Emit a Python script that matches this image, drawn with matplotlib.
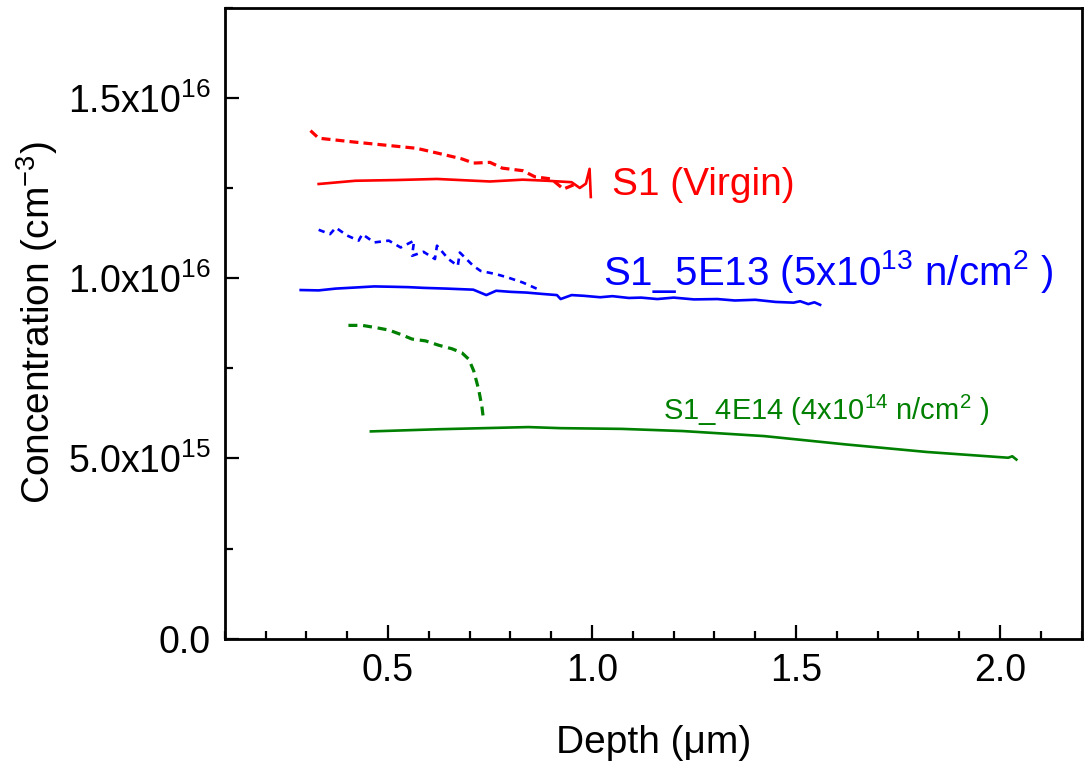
import matplotlib
matplotlib.use("Agg")
import matplotlib.pyplot as plt
from matplotlib.ticker import MultipleLocator

plt.rcParams['font.family'] = ['Liberation Sans', 'DejaVu Sans']
plt.rcParams['mathtext.fontset'] = 'custom'
plt.rcParams['mathtext.rm'] = 'Liberation Sans'
plt.rcParams['mathtext.it'] = 'Liberation Sans:italic'
plt.rcParams['mathtext.bf'] = 'Liberation Sans:bold'

# depth in um, concentration in units of 1e15 cm^-3
red_solid_x = [0.33, 0.42, 0.52, 0.62, 0.75, 0.83, 0.89, 0.95, 0.97, 0.985, 0.994, 0.997]
red_solid_y = [12.61, 12.70, 12.72, 12.75, 12.68, 12.73, 12.70, 12.66, 12.50, 12.62, 13.03, 12.25]

red_dash_x = [0.31, 0.33, 0.42, 0.50, 0.57, 0.62, 0.68, 0.71, 0.75, 0.78, 0.83, 0.86, 0.90, 0.93, 0.96]
red_dash_y = [14.09, 13.88, 13.77, 13.68, 13.60, 13.47, 13.31, 13.19, 13.21, 13.05, 12.98, 12.81, 12.75, 12.47, 12.61]

blue_solid_x = [0.286, 0.33, 0.372, 0.42, 0.466, 0.512, 0.55, 0.587, 0.643, 0.709, 0.741, 0.765, 0.80, 0.839,
                0.88, 0.914, 0.923, 0.95, 0.98, 1.02, 1.05, 1.09, 1.12, 1.16, 1.20, 1.25, 1.307, 1.35,
                1.40, 1.45, 1.494, 1.51, 1.53, 1.545, 1.559]
blue_solid_y = [9.67, 9.66, 9.71, 9.74, 9.77, 9.76, 9.75, 9.73, 9.71, 9.68, 9.53, 9.65, 9.62, 9.60,
                9.56, 9.53, 9.42, 9.53, 9.51, 9.47, 9.50, 9.45, 9.46, 9.42, 9.46, 9.41, 9.42, 9.38,
                9.40, 9.34, 9.32, 9.36, 9.28, 9.33, 9.26]

blue_dash_x = [0.33, 0.358, 0.372, 0.40, 0.428, 0.437, 0.466, 0.502, 0.531, 0.564, 0.559, 0.587,
               0.615, 0.62, 0.648, 0.671, 0.676, 0.709, 0.727, 0.765, 0.793, 0.83, 0.868]
blue_dash_y = [11.34, 11.22, 11.40, 11.18, 11.04, 11.22, 10.99, 11.04, 10.85, 11.04, 10.62, 10.73,
               10.53, 10.90, 10.53, 10.34, 10.71, 10.34, 10.20, 10.11, 10.02, 9.88, 9.69]

green_solid_x = [0.458, 0.624, 0.844, 0.923, 1.073, 1.222, 1.422, 1.621, 1.82, 2.02, 2.03, 2.04]
green_solid_y = [5.75, 5.81, 5.87, 5.84, 5.82, 5.76, 5.62, 5.39, 5.18, 5.02, 5.06, 4.97]

green_dash_x = [0.403, 0.437, 0.474, 0.502, 0.531, 0.559, 0.592, 0.624, 0.657, 0.681, 0.698,
                0.71, 0.722, 0.73, 0.734]
green_dash_y = [8.69, 8.69, 8.62, 8.56, 8.44, 8.31, 8.26, 8.14, 8.04, 7.93, 7.75,
                7.43, 6.92, 6.45, 6.08]

y_ticks = [0, 5, 10, 15]
y_tick_labels = ['0.0', r'5.0x10$^{15}$', r'1.0x10$^{16}$', r'1.5x10$^{16}$']
x_ticks = [0.5, 1.0, 1.5, 2.0]
x_tick_labels = ['0.5', '1.0', '1.5', '2.0']

fig = plt.figure(figsize=(10.86, 7.65), dpi=100)
ax = fig.add_axes([0.207, 0.165, 0.789, 0.825])

ax.plot(red_solid_x, red_solid_y, color='#ff0000', lw=1.9)
ax.plot(red_dash_x, red_dash_y, color='#ff0000', lw=2.3, ls=(0, (2.8, 1.6)))
ax.plot(blue_solid_x, blue_solid_y, color='#0000ff', lw=1.9)
ax.plot(blue_dash_x, blue_dash_y, color='#0000ff', lw=1.9, ls=(0, (2.4, 2.0)))
ax.plot(green_solid_x, green_solid_y, color='#008000', lw=1.9)
ax.plot(green_dash_x, green_dash_y, color='#008000', lw=2.3, ls=(0, (2.8, 1.8)))

ax.text(1.05, 12.58, 'S1 (Virgin)', color='#ff0000', fontsize=28, va='center')
ax.text(1.027, 10.19, r'S1_5E13 (5x10$^{13}$ n/cm$^{2}$ )', color='#0000ff', fontsize=29, va='center')
ax.text(1.173, 6.33, r'S1_4E14 (4x10$^{14}$ n/cm$^{2}$ )', color='#008000', fontsize=21, va='center')

ax.set_xlim(0.1, 2.2)
ax.set_ylim(0, 17.5)
ax.set_xticks(x_ticks)
ax.set_xticklabels(x_tick_labels)
ax.set_yticks(y_ticks)
ax.set_yticklabels(y_tick_labels)
ax.xaxis.set_minor_locator(MultipleLocator(0.1))
ax.yaxis.set_minor_locator(MultipleLocator(2.5))

ax.tick_params(which='both', direction='in', top=False, right=False, width=1.6, labelsize=27)
ax.tick_params(which='major', length=10, pad=10)
ax.tick_params(which='minor', length=5.5)
for s in ax.spines.values():
    s.set_linewidth(2)

ax.set_xlabel('Depth (\u03bcm)', fontsize=28, labelpad=26)
ax.set_ylabel(r'Concentration (cm$^{-3}$)', fontsize=28, labelpad=6)

fig.savefig('out.png', dpi=100)
